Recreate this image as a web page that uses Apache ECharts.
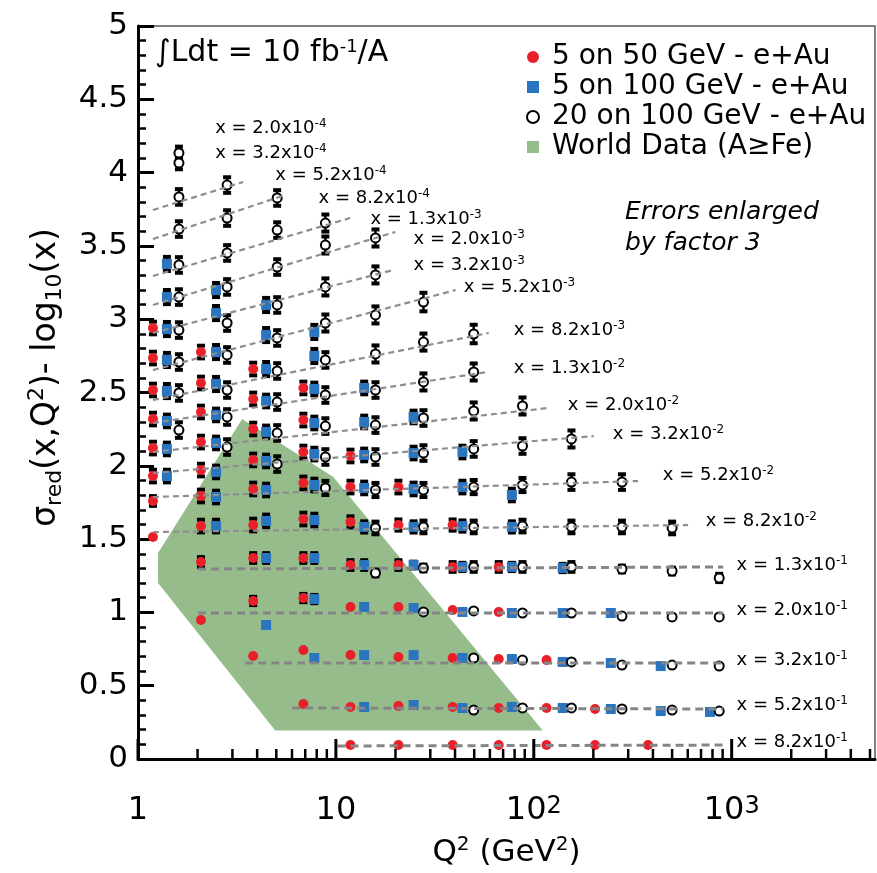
<!DOCTYPE html>
<html><head><meta charset="utf-8">
<script src="https://cdn.jsdelivr.net/npm/echarts@6/dist/echarts.min.js"></script>
<style>html,body{margin:0;padding:0;background:#fff}#c{width:877px;height:873px}</style>
</head><body><div id="c"></div>
<script>
// ---------------- DATA ----------------
// [Q2 (GeV^2), sigma_red - log10(x), error (already x3)]
const redData = [
 [1.19,2.940,0.05],[1.19,2.735,0.05],[1.19,2.517,0.05],[1.19,2.319,0.05],[1.19,2.121,0.05],[1.19,1.930,0.05],[1.19,1.760,0.04],[1.19,1.514,0],
 [2.08,2.776,0.05],[2.08,2.565,0.05],[2.08,2.367,0.05],[2.08,2.162,0.05],[2.08,1.971,0.05],[2.08,1.794,0.05],[2.08,1.589,0.05],[2.08,1.344,0.04],[2.08,0.948,0],
 [3.82,2.660,0.05],[3.82,2.456,0.05],[3.82,2.251,0.05],[3.82,2.040,0.05],[3.82,1.842,0.05],[3.82,1.596,0.05],[3.82,1.371,0.04],[3.82,1.078,0.035],[3.82,0.703,0],
 [6.85,2.531,0.05],[6.85,2.312,0.05],[6.85,2.094,0.05],[6.85,1.883,0.05],[6.85,1.637,0.05],[6.85,1.371,0.04],[6.85,1.098,0.035],[6.85,0.744,0],[6.85,0.375,0],
 [11.85,2.067,0.05],[11.85,1.855,0.05],[11.85,1.617,0.045],[11.85,1.323,0.04],[11.85,1.037,0],[11.85,0.709,0],[11.85,0.355,0],[11.85,0.095,0],
 [20.7,1.855,0.05],[20.7,1.596,0.045],[20.7,1.323,0.04],[20.7,1.037,0],[20.7,0.696,0],[20.7,0.362,0],[20.7,0.095,0],
 [38.9,1.596,0.045],[38.9,1.310,0.04],[38.9,1.016,0],[38.9,0.689,0],[38.9,0.355,0],[38.9,0.095,0],
 [66.5,1.310,0.04],[66.5,1.003,0],[66.5,0.682,0],[66.5,0.348,0],[66.5,0.095,0],
 [116,0.675,0],[116,0.348,0],[116,0.095,0],
 [204,0.341,0],[204,0.095,0],
 [378,0.095,0]
];
const blueData = [
 [1.40,3.377,0.055],[1.40,3.151,0.055],[1.40,2.933,0.055],[1.40,2.722,0.055],[1.40,2.510,0.055],[1.40,2.306,0.05],[1.40,2.115,0.05],[1.40,1.930,0.05],
 [2.48,3.199,0.055],[2.48,3.042,0.055],[2.48,2.776,0.055],[2.48,2.558,0.055],[2.48,2.347,0.05],[2.48,2.156,0.05],[2.48,1.958,0.05],[2.48,1.787,0.05],[2.48,1.589,0.05],
 [4.44,3.097,0.055],[4.44,2.892,0.055],[4.44,2.660,0.055],[4.44,2.442,0.05],[4.44,2.231,0.05],[4.44,2.033,0.05],[4.44,1.835,0.05],[4.44,1.624,0.05],[4.44,1.371,0.04],[4.44,0.914,0],
 [7.78,2.913,0.055],[7.78,2.749,0.055],[7.78,2.524,0.05],[7.78,2.292,0.05],[7.78,2.080,0.05],[7.78,1.869,0.05],[7.78,1.630,0.05],[7.78,1.371,0.04],[7.78,1.091,0.035],[7.78,0.689,0],
 [13.9,2.531,0.05],[13.9,2.299,0.05],[13.9,2.074,0.05],[13.9,1.849,0.05],[13.9,1.583,0.045],[13.9,1.323,0.04],[13.9,1.037,0],[13.9,0.709,0],[13.9,0.355,0],
 [24.7,2.333,0.05],[24.7,2.087,0.05],[24.7,1.842,0.05],[24.7,1.583,0.045],[24.7,1.323,0.03],[24.7,1.030,0],[24.7,0.709,0],[24.7,0.368,0],
 [43.6,2.094,0.05],[43.6,1.855,0.05],[43.6,1.589,0.045],[43.6,1.310,0.035],[43.6,1.003,0],[43.6,0.689,0],[43.6,0.348,0],
 [77.5,1.801,0.05],[77.5,1.583,0.045],[77.5,1.310,0.035],[77.5,0.996,0],[77.5,0.682,0],[77.5,0.355,0],
 [140,1.303,0.035],[140,0.996,0],[140,0.662,0],[140,0.348,0],
 [245,0.996,0],[245,0.655,0],[245,0.341,0],
 [438,0.634,0],[438,0.327,0],
 [777,0.321,0]
];
const openData = [
 [1.61,4.134,0.05],[1.61,4.066,0.05],[1.61,3.834,0.06],[1.61,3.615,0.06],[1.61,3.370,0.06],[1.61,3.151,0.06],[1.61,2.926,0.06],[1.61,2.708,0.06],[1.61,2.497,0.06],[1.61,2.244,0.06],
 [2.82,3.915,0.06],[2.82,3.690,0.06],[2.82,3.452,0.06],[2.82,3.220,0.06],[2.82,2.974,0.06],[2.82,2.756,0.06],[2.82,2.517,0.06],[2.82,2.333,0.06],[2.82,2.128,0.06],
 [5.05,3.827,0.06],[5.05,3.608,0.06],[5.05,3.356,0.06],[5.05,3.097,0.06],[5.05,2.872,0.06],[5.05,2.647,0.06],[5.05,2.435,0.06],[5.05,2.224,0.06],[5.05,2.012,0.06],
 [8.85,3.656,0.065],[8.85,3.506,0.065],[8.85,3.220,0.065],[8.85,2.974,0.065],[8.85,2.722,0.06],[8.85,2.483,0.06],[8.85,2.271,0.06],[8.85,2.060,0.06],[8.85,1.849,0.055],
 [15.85,3.554,0.065],[15.85,3.302,0.065],[15.85,3.029,0.065],[15.85,2.763,0.065],[15.85,2.517,0.06],[15.85,2.278,0.06],[15.85,2.060,0.06],[15.85,1.835,0.055],[15.85,1.576,0.05],[15.85,1.269,0.03],
 [27.7,3.117,0.07],[27.7,2.844,0.065],[27.7,2.572,0.065],[27.7,2.326,0.06],[27.7,2.087,0.06],[27.7,1.835,0.055],[27.7,1.583,0.05],[27.7,1.303,0.03],[27.7,1.003,0],
 [49.7,2.899,0.07],[49.7,2.640,0.065],[49.7,2.374,0.065],[49.7,2.115,0.06],[49.7,1.855,0.055],[49.7,1.583,0.05],[49.7,1.310,0.04],[49.7,1.010,0],[49.7,0.689,0],[49.7,0.334,0],
 [87.7,2.408,0.065],[87.7,2.135,0.06],[87.7,1.869,0.055],[87.7,1.589,0.05],[87.7,1.310,0.04],[87.7,0.996,0],[87.7,0.675,0],[87.7,0.348,0],
 [155,2.183,0.065],[155,1.889,0.06],[155,1.583,0.05],[155,1.310,0.04],[155,0.996,0],[155,0.662,0],[155,0.348,0],
 [279,1.889,0.06],[279,1.583,0.05],[279,1.296,0.03],[279,0.975,0],[279,0.641,0],[279,0.341,0],
 [500,1.576,0.05],[500,1.282,0.03],[500,0.969,0],[500,0.641,0],[500,0.334,0],
 [865,1.235,0.035],[865,0.969,0],[865,0.634,0],[865,0.327,0]
];
// fit lines per x bin (x = 5.2e-4 ... 8.2e-1): [Q2 start, value start, Q2 end, value end]
const fitLines = [
 [1.19,3.745,3.40,3.936],
 [1.19,3.547,5.55,3.847],
 [1.19,3.295,11.8,3.690],
 [1.19,3.097,20.0,3.595],
 [1.19,2.906,19.5,3.336],
 [1.19,2.653,40.3,3.199],
 [1.19,2.449,59.2,2.906],
 [1.19,2.292,58.3,2.640],
 [1.19,2.094,118,2.394],
 [1.19,1.951,201,2.203],
 [1.19,1.787,336,1.896],
 [1.19,1.548,602,1.596],
 [2.01,1.296,906,1.310],
 [2.01,0.996,906,0.996],
 [3.48,0.655,906,0.655],
 [6.02,0.348,906,0.341],
 [10.2,0.089,906,0.095]
];
// x-bin labels
const binMant = ['2.0','3.2','5.2','8.2','1.3','2.0','3.2','5.2','8.2','1.3','2.0','3.2','5.2','8.2','1.3','2.0','3.2','5.2','8.2'];
const binExp  = [-4,-4,-4,-4,-3,-3,-3,-3,-3,-2,-2,-2,-2,-2,-1,-1,-1,-1,-1];
const binLabelQ2 = [2.455,2.455,4.94,8.17,14.94,24.7,24.7,44.3,79.2,79.2,148.5,251,449,739,1058,1058,1058,1058,1058];
const binLabelY  = [4.304,4.134,3.984,3.827,3.684,3.547,3.370,3.220,2.926,2.667,2.415,2.217,1.937,1.623,1.323,1.016,0.675,0.368,0.116];
// World data region (A>=Fe): polygon vertices [Q2, value]
const worldPoly = [[1.263,1.405],[3.36,2.319],[9.71,1.924],[111,0.195],[4.94,0.195],[1.263,1.20]];
// axis tick values
const xMajorTicks = [1,10,100,1000];
const xMinorTicks = [2,3,4,5,6,7,8,9,20,30,40,50,60,70,80,90,200,300,400,500,600,700,800,900,2000,3000,4000,5000];

const seriesNames = ['5 on 50 GeV - e+Au','5 on 100 GeV - e+Au','20 on 100 GeV - e+Au','World Data (A\u2265Fe)'];

// ---------------- CHART ----------------
const FONT = 'DejaVu Sans';
const RED = '#e8202a', BLUE = '#2b74bf', GREEN = '#96bc8c';
const chart = echarts.init(document.getElementById('c'), null, {renderer:'canvas'});

function errBars(name, data, z) {
  return {
    type:'custom', name: name + ' err', z: z, silent:true, data: data,
    encode:{x:0, y:1},
    renderItem: function(params, api) {
      const q = api.value(0), v = api.value(1), e = api.value(2);
      if (!e) return null;
      const t = api.coord([q, v + e]), b = api.coord([q, v - e]);
      return {type:'group', children:[
        {type:'line', shape:{x1:t[0], y1:t[1], x2:b[0], y2:b[1]}, style:{stroke:'#000', lineWidth:2.5}},
        {type:'rect', shape:{x:t[0]-4, y:t[1]-1, width:8, height:4}, style:{fill:'#000'}},
        {type:'rect', shape:{x:b[0]-4, y:b[1]-3, width:8, height:4}, style:{fill:'#000'}}
      ]};
    }
  };
}
function tickSeries(vals, len, w) {
  return {
    type:'custom', silent:true, z:20, data: vals.map(v => [v, 0]),
    encode:{x:0, y:1},
    renderItem: function(params, api) {
      const p = api.coord([api.value(0), 0]);
      return {type:'line', shape:{x1:p[0], y1:p[1], x2:p[0], y2:p[1]-len}, style:{stroke:'#000', lineWidth:w}};
    }
  };
}

const series = [];
series.push({
  type:'custom', name: seriesNames[3], z:1, silent:true, data: worldPoly,
  encode:{x:0, y:1}, itemStyle:{color:GREEN},
  renderItem: function(params, api) {
    if (params.dataIndex !== 0) return null;
    const pts = worldPoly.map(p => api.coord(p));
    return {type:'polygon', shape:{points:pts}, style:{fill:GREEN}};
  }
});
series.push(errBars('red', redData, 2), errBars('blue', blueData, 2), errBars('open', openData, 2));
series.push({type:'scatter', name:seriesNames[0], z:3, data: redData.map(d => [d[0], d[1]]), symbol:'circle', symbolSize:10, itemStyle:{color:RED, opacity:1}});
series.push({type:'scatter', name:seriesNames[1], z:4, data: blueData.map(d => [d[0], d[1]]), symbol:'rect', symbolSize:10, itemStyle:{color:BLUE, opacity:1}});
series.push({type:'scatter', name:seriesNames[2], z:5, data: openData.map(d => [d[0], d[1]]), symbol:'circle', symbolSize:9, itemStyle:{color:'#fff', borderColor:'#000', borderWidth:2, opacity:1}});
fitLines.forEach((f, i) => {
  const lower = i >= 12;
  series.push({
    type:'line', z:6, silent:true, symbol:'none', showSymbol:false,
    data: [[f[0], f[1]], [f[2], f[3]]],
    lineStyle: lower ? {color:'#858585', width:3, type:[8,5]} : {color:'#8e8e8e', width:2.2, type:[6,4]}
  });
});
series.push({
  type:'scatter', z:7, silent:true, symbolSize:0, itemStyle:{opacity:1},
  data: binLabelQ2.map((q, i) => [q, binLabelY[i]]),
  label:{show:true, position:'right', distance:0, fontSize:18, fontFamily:FONT, color:'#000', opacity:1, lineHeight:20,
    formatter: p => 'x = ' + binMant[p.dataIndex] + 'x10{sup|' + binExp[p.dataIndex] + '}',
    rich:{sup:{fontSize:12, lineHeight:12, verticalAlign:'top', fontFamily:FONT, color:'#000'}}}
});
series.push(tickSeries(xMajorTicks, 20, 3));
series.push(tickSeries(xMinorTicks, 10, 2.5));

function logLabel(v) {
  const n = Math.round(Math.log10(v));
  if (Math.abs(v - Math.pow(10, n)) > 1e-6 * v) return '';
  if (n === 0) return '1';
  if (n === 1) return '10';
  return '10{sup|' + n + '}';
}

chart.setOption({
  animation:false,
  backgroundColor:'#fff',
  grid:{left:138, right:2, top:26, bottom:114, show:true, borderColor:'#555', borderWidth:1.5, containLabel:false, outerBoundsMode:'none'},
  legend:{
    orient:'vertical', left:521, top:37, itemWidth:12, itemHeight:12, itemGap:0, selectedMode:false,
    data:[{name:seriesNames[0], icon:'circle'},{name:seriesNames[1], icon:'rect'},{name:seriesNames[2], icon:'circle'},{name:seriesNames[3], icon:'rect'}],
    textStyle:{fontSize:28, fontFamily:FONT, color:'#000', lineHeight:30, padding:[0,0,0,8]}
  },
  xAxis:{
    type:'log', logBase:10, min:1, max:5300,
    axisLine:{show:true, onZero:false, lineStyle:{color:'#000', width:3}},
    axisTick:{show:false}, minorTick:{show:false}, splitLine:{show:false},
    axisLabel:{margin:36, fontSize:32, fontFamily:FONT, color:'#000', showMaxLabel:false, formatter: logLabel,
      rich:{sup:{fontSize:24, lineHeight:24, verticalAlign:'top', fontFamily:FONT, color:'#000'}}},
    name:'Q{sup|2} (GeV{sup|2})', nameLocation:'middle', nameGap:76,
    nameTextStyle:{fontSize:31, fontFamily:FONT, color:'#000', lineHeight:36,
      rich:{sup:{fontSize:20, lineHeight:20, verticalAlign:'top', fontFamily:FONT, color:'#000'}}}
  },
  yAxis:{
    type:'value', min:0, max:5, interval:0.5,
    axisLine:{show:true, lineStyle:{color:'#000', width:3}},
    axisTick:{show:true, inside:true, length:16, lineStyle:{color:'#000', width:3}},
    minorTick:{show:true, splitNumber:5, length:8, lineStyle:{color:'#000', width:2.5}},
    splitLine:{show:false}, minorSplitLine:{show:false},
    axisLabel:{fontSize:31, fontFamily:FONT, color:'#000', margin:10},
    name:'\u03c3{sub|red}(x,Q{sup|2})- log{sub|10}(x)', nameLocation:'middle', nameGap:72,
    nameTextStyle:{fontSize:33, fontFamily:FONT, color:'#000', lineHeight:40, padding:[0,0,0,30],
      rich:{sub:{fontSize:22, lineHeight:22, verticalAlign:'bottom', fontFamily:FONT, color:'#000'},
            sup:{fontSize:22, lineHeight:22, verticalAlign:'top', fontFamily:FONT, color:'#000'}}}
  },
  graphic:[
    {type:'text', left:155, top:38, z:100, style:{text:'\u222bLdt = 10 fb{sup|-1}/A', fontSize:30, fontFamily:FONT, fill:'#000',
      rich:{sup:{fontSize:18, lineHeight:18, verticalAlign:'top', fontFamily:FONT, fill:'#000'}}}},
    {type:'text', left:625, top:197, z:100, style:{text:'Errors enlarged\nby factor 3', fontSize:25, fontStyle:'italic', fontFamily:FONT, lineHeight:31, fill:'#000'}}
  ],
  series: series
});
</script></body></html>
